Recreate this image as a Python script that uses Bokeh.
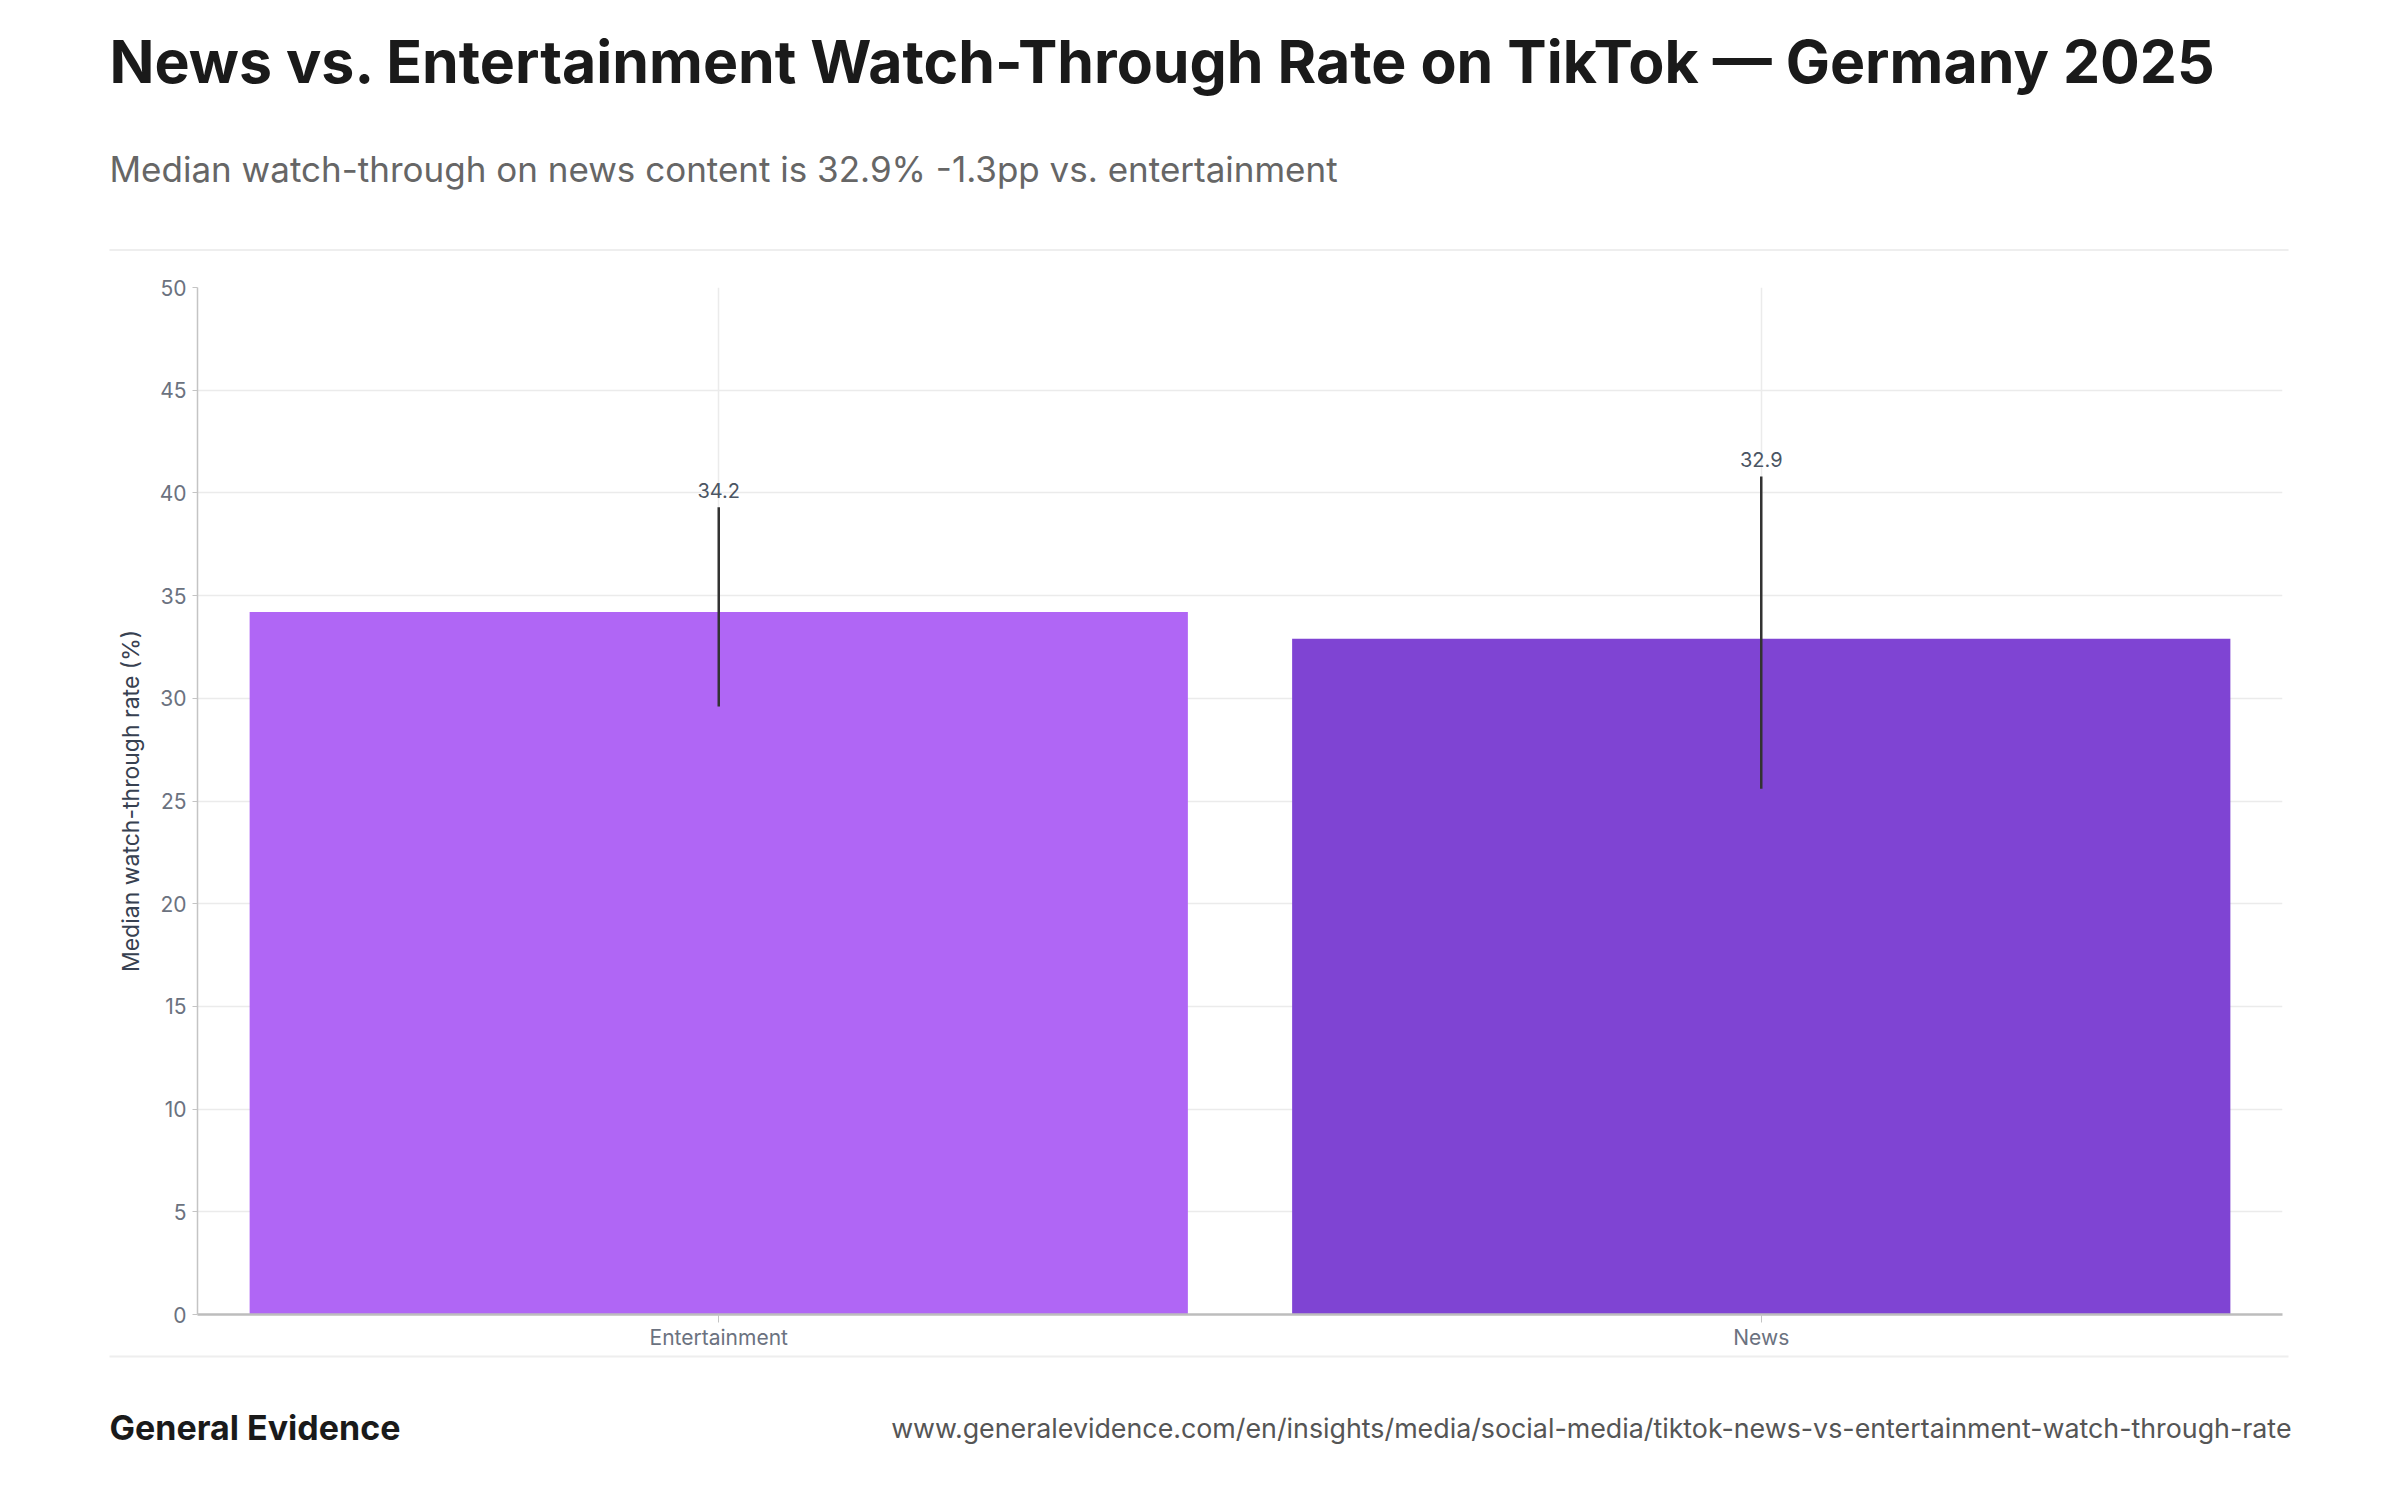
from bokeh.plotting import figure
from bokeh.layouts import column, row
from bokeh.models import Label, BoxAnnotation, FixedTicker, FactorRange, Range1d, ColumnDataSource
from bokeh.embed import file_html
from bokeh.resources import INLINE
from bokeh.core.properties import value

# ---- data ----
categories = ["Entertainment", "News"]
medians = [34.2, 32.9]
ci_low = [29.6, 25.6]
ci_high = [39.3, 40.8]
bar_colors = ["#B066F5", "#7F44D3"]
y_ticks = [0, 5, 10, 15, 20, 25, 30, 35, 40, 45, 50]

title_text = "News vs. Entertainment Watch-Through Rate on TikTok \u2014 Germany 2025"
diff_pp = medians[1] - medians[0]
subtitle_text = f"Median watch-through on news content is {medians[1]:.1f}% {diff_pp:.1f}pp vs. entertainment"
y_label = "Median watch-through rate (%)"
brand = "General Evidence"
url = "www.generalevidence.com/en/insights/media/social-media/tiktok-news-vs-entertainment-watch-through-rate"

FONT = "Inter"
W, H = 2384, 1484
HEAD_H = 252          # header band: page y 0..252
FOOT_Y = 1352         # footer band starts here
MAIN_H = FOOT_Y - HEAD_H
FOOT_H = H - FOOT_Y
FL, FR, FT, FB = 197, 2282, 287, 1315   # chart frame edges on the page

RULE_L, RULE_R = 109, 2288


def blank(height, y0):
    """A figure whose data units equal page pixels (y downwards)."""
    f = figure(width=W, height=height, x_range=Range1d(0, W),
               y_range=Range1d(y0 + height, y0),
               output_backend="svg", toolbar_location=None,
               min_border=0, min_border_left=0, min_border_right=0,
               min_border_top=0, min_border_bottom=0)
    f.axis.visible = False
    f.grid.visible = False
    f.outline_line_color = None
    f.background_fill_color = "white"
    f.border_fill_color = "white"
    return f


# ---- header ----
head = blank(HEAD_H, 0)
head.add_layout(BoxAnnotation(left=RULE_L, right=RULE_R, top=248.5, bottom=250.5,
                              fill_color="#eeeeee", fill_alpha=1.0, line_color=None,
                              level="overlay"))
head.add_layout(Label(x=109, y=61, text=title_text,
                      text_font=FONT, text_font_size="59px", text_font_style="bold",
                      text_color="#1a1a1a", text_baseline="alphabetic", level="overlay"))
head.add_layout(Label(x=109, y=168, text=subtitle_text,
                      text_font=FONT, text_font_size="35px", text_color="#666666",
                      text_baseline="alphabetic", level="overlay"))

# ---- main chart ----
src = ColumnDataSource(dict(
    cat=categories, val=medians, lo=ci_low, hi=ci_high, color=bar_colors,
    label=[f"{v:.1f}" for v in medians],
))

p = figure(width=W, height=MAIN_H,
           x_range=FactorRange(*categories, range_padding=0),
           y_range=Range1d(0, 50),
           output_backend="svg", toolbar_location=None,
           min_border_left=FL, min_border_right=W - FR,
           min_border_top=FT - HEAD_H, min_border_bottom=FOOT_Y - FB)
p.outline_line_color = None
p.background_fill_color = "white"
p.border_fill_color = "white"

p.ygrid.ticker = FixedTicker(ticks=y_ticks)
p.ygrid.grid_line_color = "#ebebeb"
p.ygrid.grid_line_width = 1.5
p.xgrid.grid_line_color = "#ebebeb"
p.xgrid.grid_line_width = 1.5

p.yaxis.ticker = FixedTicker(ticks=y_ticks)
p.yaxis.minor_tick_line_color = None
p.yaxis.major_tick_in = 0
p.yaxis.major_tick_out = 5
p.yaxis.major_tick_line_color = "#c4c4c4"
p.yaxis.axis_line_color = "#c4c4c4"
p.yaxis.axis_line_width = 1.5
p.yaxis.major_label_text_font = FONT
p.yaxis.major_label_text_font_size = "21px"
p.yaxis.major_label_text_color = "#6b7280"
p.yaxis.major_label_standoff = 6
p.yaxis.axis_label = y_label
p.yaxis.axis_label_text_font = FONT
p.yaxis.axis_label_text_font_size = "23px"
p.yaxis.axis_label_text_font_style = "normal"
p.yaxis.axis_label_text_color = "#374151"
p.yaxis.axis_label_standoff = 12

p.xaxis.major_tick_in = 0
p.xaxis.major_tick_out = 8
p.xaxis.major_tick_line_color = "#c4c4c4"
p.xaxis.axis_line_color = "#bdbdbd"
p.xaxis.axis_line_width = 2.5
p.xaxis.major_label_text_font = FONT
p.xaxis.major_label_text_font_size = "21px"
p.xaxis.major_label_text_color = "#6b7280"
p.xaxis.major_label_standoff = 2

p.vbar(x="cat", top="val", width=0.9, bottom=0, fill_color="color",
       line_color=None, source=src)
p.segment(x0="cat", y0="lo", x1="cat", y1="hi", line_color="#333333",
          line_width=2.5, source=src)
p.text(x="cat", y="hi", text="label", text_align="center", text_baseline="bottom",
       y_offset=-9, text_font_size="20px", text_color="#4b5563",
       text_font=value(FONT), source=src)

# ---- footer ----
foot = blank(FOOT_H, FOOT_Y)
foot.add_layout(BoxAnnotation(left=RULE_L, right=RULE_R, top=1355, bottom=1357,
                              fill_color="#eeeeee", fill_alpha=1.0, line_color=None,
                              level="overlay"))
foot.add_layout(Label(x=109, y=1427, text=brand,
                      text_font=FONT, text_font_size="34px", text_font_style="bold",
                      text_color="#1a1a1a", text_baseline="alphabetic", level="overlay"))
foot.add_layout(Label(x=2291, y=1427, text=url,
                      text_font=FONT, text_font_size="26.8px", text_color="#555555",
                      text_align="right", text_baseline="alphabetic", level="overlay"))

layout = column(row(head), p, row(foot), spacing=0)
open("out.html", "w").write(file_html(layout, INLINE))
